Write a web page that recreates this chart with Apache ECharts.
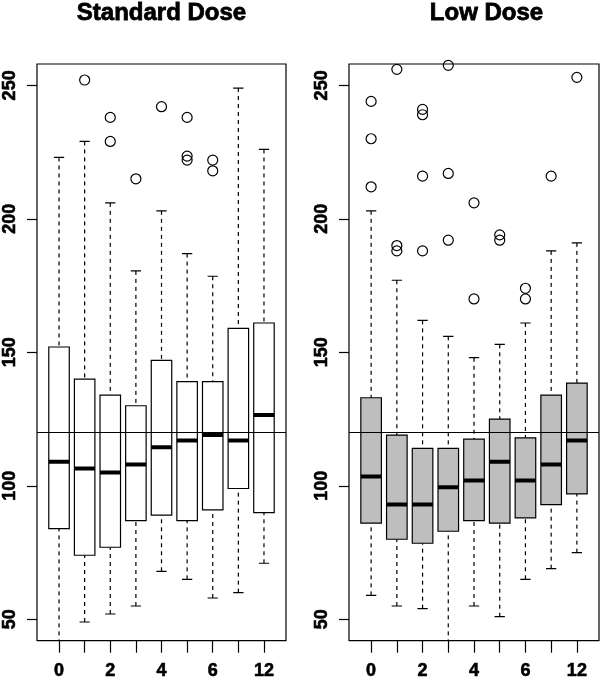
<!DOCTYPE html>
<html><head><meta charset="utf-8">
<script src="https://cdn.jsdelivr.net/npm/echarts@6/dist/echarts.min.js"></script>
<style>html,body{margin:0;padding:0;background:#fff}#c{width:600px;height:680px}</style>
</head><body><div id="c"></div><script>
// ---- data ----
const categories = ['0','1','2','3','4','5','6','9','12'];
const xTickLabels = ['0','2','4','6','12'];
const yTicks = [50, 100, 150, 200, 250];
const refValue = 120;
const panelTitles = ['Standard Dose', 'Low Dose'];

const stdLow  = [38, 49, 52, 55, 68, 65, 58, 60, 71];
const stdQ1   = [84, 74, 77, 87, 89, 87, 91, 99, 90];
const stdMed  = [109, 106.5, 105, 108, 114.5, 117, 119, 117, 126.5];
const stdQ3   = [152, 140, 134, 130, 147, 139, 139, 159, 161];
const stdHigh = [223, 229, 206, 180.5, 203, 187, 178.5, 249, 226];
const stdOut  = [[], [252], [238, 229], [215], [242], [238, 223.5, 222], [222, 218], [], []];

const lowLow  = [59, 55, 54, 38, 55, 51, 65, 69, 75];
const lowQ1   = [86, 80, 78.5, 83, 87, 86, 88, 93, 97];
const lowMed  = [103.5, 93, 93, 99.5, 102, 109, 102, 108, 117];
const lowQ3   = [133, 119, 114, 114, 117.5, 125, 118, 134, 138.5];
const lowHigh = [203, 177, 162, 156, 148, 153, 161, 188, 191];
const lowOut  = [[244, 230, 212], [256, 190, 188], [241, 239, 216, 188], [257.5, 217, 192], [206, 170], [194, 192], [174, 170], [216], [253]];

// ---- build ----
const FONT = 'Liberation Sans';
const pos = categories.map((c, i) => i + 1);
const labelPos = pos.filter(p => xTickLabels.includes(categories[p - 1]));

function boxData(lo, q1, md, q3, hi) {
  return pos.map((p, i) => [p, lo[i], q1[i], md[i], q3[i], hi[i]]);
}
function outData(out) {
  const d = [];
  out.forEach((arr, i) => arr.forEach(v => d.push([i + 1, v])));
  return d;
}
function makeRender(fill) {
  return function (params, api) {
    const x = api.value(0);
    const lo = api.value(1), q1 = api.value(2), md = api.value(3), q3 = api.value(4), hi = api.value(5);
    const hw = 0.4, cw = 0.2;
    const pLo = api.coord([x, lo]), pQ1 = api.coord([x, q1]), pMd = api.coord([x, md]);
    const pQ3 = api.coord([x, q3]), pHi = api.coord([x, hi]);
    const xl = api.coord([x - hw, q1])[0], xr = api.coord([x + hw, q1])[0];
    const cl = api.coord([x - cw, q1])[0], cr = api.coord([x + cw, q1])[0];
    const ln = {stroke: '#000', lineWidth: 1.2};
    const dash = {stroke: '#000', lineWidth: 1.2, lineDash: [4, 4]};
    return {
      type: 'group',
      children: [
        {type: 'line', shape: {x1: pHi[0], y1: pHi[1], x2: pQ3[0], y2: pQ3[1]}, style: dash},
        {type: 'line', shape: {x1: pLo[0], y1: pLo[1], x2: pQ1[0], y2: pQ1[1]}, style: dash},
        {type: 'line', shape: {x1: cl, y1: pHi[1], x2: cr, y2: pHi[1]}, style: ln},
        {type: 'line', shape: {x1: cl, y1: pLo[1], x2: cr, y2: pLo[1]}, style: ln},
        {type: 'rect', shape: {x: xl, y: pQ3[1], width: xr - xl, height: pQ1[1] - pQ3[1]},
          style: {fill: fill, stroke: '#000', lineWidth: 1.2}},
        {type: 'line', shape: {x1: xl, y1: pMd[1], x2: xr, y2: pMd[1]}, style: {stroke: '#000', lineWidth: 4}}
      ]
    };
  };
}

const grids = [
  {left: 37, top: 64, width: 249, height: 579},
  {left: 349, top: 64, width: 250, height: 579}
].map(g => Object.assign(g, {show: true, borderColor: '#000', borderWidth: 1.2, backgroundColor: '#fff', containLabel: false}));

const labelText = {color: '#000', fontFamily: FONT, fontWeight: 'bold', fontSize: 18,
  textBorderColor: '#000', textBorderWidth: 0.6};

function xAxisFor(gi) {
  return {
    type: 'value', gridIndex: gi, min: 0.14, max: 9.86,
    axisLine: {show: false}, splitLine: {show: false},
    axisTick: {show: true, length: 12, customValues: pos, lineStyle: {color: '#000', width: 1.2}},
    axisLabel: Object.assign({show: true, customValues: labelPos, margin: 21,
      formatter: v => categories[Math.round(v) - 1]}, labelText)
  };
}
function yAxisFor(gi) {
  return {
    type: 'value', gridIndex: gi, min: 42, max: 258,
    axisLine: {show: false}, splitLine: {show: false},
    axisTick: {show: true, length: 10, customValues: yTicks, lineStyle: {color: '#000', width: 1.2}},
    axisLabel: Object.assign({show: true, customValues: yTicks, rotate: 90, margin: 18}, labelText)
  };
}

const panels = [
  {box: boxData(stdLow, stdQ1, stdMed, stdQ3, stdHigh), out: outData(stdOut), fill: '#ffffff'},
  {box: boxData(lowLow, lowQ1, lowMed, lowQ3, lowHigh), out: outData(lowOut), fill: '#bebebe'}
];

const series = [];
panels.forEach((p, gi) => {
  series.push({
    type: 'custom', xAxisIndex: gi, yAxisIndex: gi, clip: true,
    renderItem: makeRender(p.fill),
    encode: {x: 0, y: [1, 2, 3, 4, 5]},
    data: p.box, silent: true, z: 2
  });
  series.push({
    type: 'scatter', xAxisIndex: gi, yAxisIndex: gi, clip: true,
    symbol: 'circle', symbolSize: 10,
    itemStyle: {color: 'rgba(0,0,0,0)', borderColor: '#000', borderWidth: 1.2, opacity: 1},
    data: p.out, silent: true, z: 3,
    markLine: {
      silent: true, symbol: ['none', 'none'], label: {show: false},
      lineStyle: {color: '#000', width: 1.2, type: 'solid'},
      data: [{yAxis: refValue}], animation: false
    }
  });
});

const titleText = {fontSize: 24, fontWeight: 'bold', fontFamily: FONT, color: '#000',
  textBorderColor: '#000', textBorderWidth: 0.8};

const chart = echarts.init(document.getElementById('c'), null, {renderer: 'canvas'});
chart.setOption({
  animation: false,
  backgroundColor: '#fff',
  title: [
    {text: panelTitles[0], left: 161.5, top: 1, textAlign: 'center', padding: 0, textStyle: titleText},
    {text: panelTitles[1], left: 486.5, top: 1, textAlign: 'center', padding: 0, textStyle: titleText}
  ],
  grid: grids,
  xAxis: [xAxisFor(0), xAxisFor(1)],
  yAxis: [yAxisFor(0), yAxisFor(1)],
  series: series
});
</script></body></html>
